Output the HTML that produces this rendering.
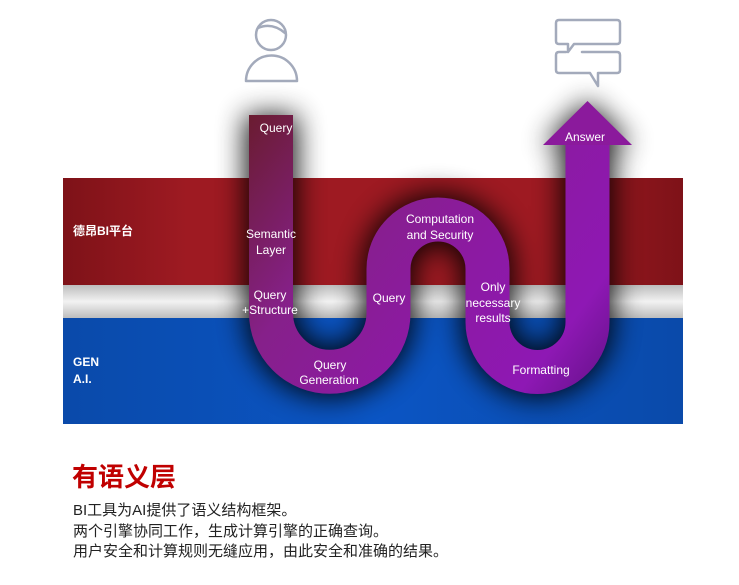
<!DOCTYPE html>
<html><head><meta charset="utf-8"><style>
body{margin:0;width:739px;height:585px;background:#fff;overflow:hidden;font-family:"Liberation Sans","Noto Sans CJK SC",sans-serif}
svg{position:absolute;left:0;top:0}
.t{position:absolute;left:73px;color:#222;font-size:15px;line-height:21px}
</style></head><body>
<svg width="739" height="585" viewBox="0 0 739 585">
<defs>
<linearGradient id="red" x1="0" x2="1">
<stop offset="0" stop-color="#7e1218"/><stop offset="0.2" stop-color="#9e1a22"/><stop offset="0.8" stop-color="#9e1a22"/><stop offset="1" stop-color="#7e1218"/></linearGradient>
<linearGradient id="blue" x1="0" x2="1">
<stop offset="0" stop-color="#0a4aaa"/><stop offset="0.5" stop-color="#0b55c4"/><stop offset="1" stop-color="#0a4aaa"/></linearGradient>
<linearGradient id="gap" x1="0" y1="0" x2="0" y2="1">
<stop offset="0" stop-color="#bdbdbd"/><stop offset="0.5" stop-color="#f2f2f2"/><stop offset="1" stop-color="#bdbdbd"/></linearGradient>
<linearGradient id="pur" x1="249" y1="115" x2="632" y2="400" gradientUnits="userSpaceOnUse">
<stop offset="0" stop-color="#6a1c30"/><stop offset="0.3" stop-color="#86208a"/><stop offset="0.55" stop-color="#8c1aa2"/><stop offset="0.8" stop-color="#8e18b4"/><stop offset="1" stop-color="#560f7a"/></linearGradient>
<filter id="bl" x="-30%" y="-30%" width="160%" height="160%"><feGaussianBlur stdDeviation="14"/></filter>
</defs>
<rect x="63" y="178" width="620" height="107" fill="url(#red)"/>
<rect x="63" y="285" width="620" height="33" fill="url(#gap)"/>
<rect x="63" y="318" width="620" height="106" fill="url(#blue)"/>
<g filter="url(#bl)" opacity="0.9">
<path d="M271,115 V313 A58.75,58.75 0 0 0 388.5,313 V269 A49.5,49.5 0 0 1 487.5,269 V322 A50,50 0 0 0 587.5,322 V140" fill="none" stroke="#000" stroke-width="52"/>
<polygon points="543,145 632,145 587.5,101" fill="#000"/>
</g>
<path d="M271,115 V313 A58.75,58.75 0 0 0 388.5,313 V269 A49.5,49.5 0 0 1 487.5,269 V322 A50,50 0 0 0 587.5,322 V144" fill="none" stroke="url(#pur)" stroke-width="44"/>
<polygon points="543,145 632,145 587.5,101" fill="#8b1a9c"/>
<g fill="none" stroke="#a3aabb" stroke-width="2.5" stroke-linecap="round" stroke-linejoin="round">
<circle cx="271" cy="35" r="15"/>
<path d="M258,28 Q272,22 285,33"/>
<path d="M246,81 A25,25 0 0 1 297,81 Z"/>
<path d="M559,20 H617 Q620,20 620,23 V41 Q620,44 617,44 H574 L568,52 V44 H559 Q556,44 556,41 V23 Q556,20 559,20 Z"/>
<path d="M566,52 H559 Q556,52 556,55 V70 Q556,73 559,73 H590 L598,86 V73 H617 Q620,73 620,70 V55 Q620,52 617,52 H582"/>
</g>
<g fill="#fff" font-size="12" text-anchor="middle" font-family="Liberation Sans,sans-serif">
<text x="276" y="132">Query</text>
<text x="271" y="238">Semantic</text><text x="271" y="254">Layer</text>
<text x="270" y="299">Query</text><text x="270" y="314">+Structure</text>
<text x="330" y="369">Query</text><text x="329" y="384">Generation</text>
<text x="389" y="302">Query</text>
<text x="440" y="223">Computation</text><text x="440" y="239">and Security</text>
<text x="493" y="291">Only</text><text x="493" y="307">necessary</text><text x="493" y="322">results</text>
<text x="541" y="374">Formatting</text>
<text x="585" y="141">Answer</text>
</g>
<g fill="#fff" font-size="12" font-weight="bold" font-family="Liberation Sans,'Noto Sans CJK SC',sans-serif">
<text x="73" y="235">德昂BI平台</text>
<text x="73" y="366">GEN</text><text x="73" y="383">A.I.</text>
</g>
</svg>
<div style="position:absolute;left:72px;top:460px;font-size:26px;font-weight:bold;color:#c00000;line-height:34px">有语义层</div>
<div class="t" style="top:500px">BI工具为AI提供了语义结构框架。</div>
<div class="t" style="top:521px">两个引擎协同工作，生成计算引擎的正确查询。</div>
<div class="t" style="top:541px">用户安全和计算规则无缝应用，由此安全和准确的结果。</div>
</body></html>
